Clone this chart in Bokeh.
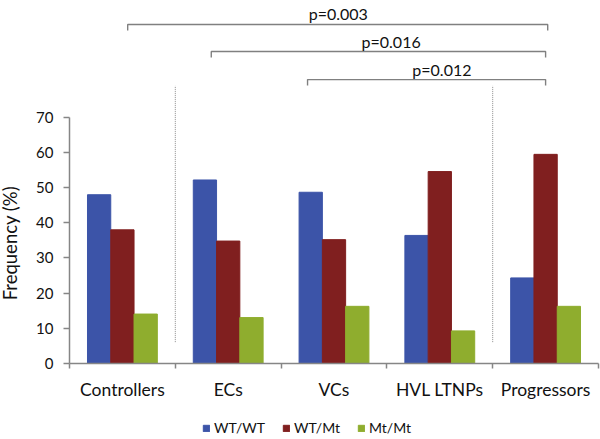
import math
from bokeh.plotting import figure
from bokeh.models import (ColumnDataSource, Range1d, FixedTicker, Legend, LegendItem, Label)
from bokeh.transform import dodge
from bokeh.core.properties import value
from bokeh.embed import file_html
from bokeh.resources import INLINE

# ---- data ----
categories = ["Controllers", "ECs", "VCs", "HVL LTNPs", "Progressors"]
wt_wt = [48.0, 52.2, 48.7, 36.4, 24.3]
wt_mt = [38.0, 34.8, 35.2, 54.6, 59.5]
mt_mt = [14.0, 13.0, 16.2, 9.2, 16.2]
series_names = ["WT/WT", "WT/Mt", "Mt/Mt"]
series_colors = ["#3C54A8", "#801F1F", "#8FAD2E"]
y_ticks = [0, 10, 20, 30, 40, 50, 60, 70]

# significance brackets (category-index space) and p-values
p_labels = ["p=0.003", "p=0.016", "p=0.012"]
bracket_left = [0.55, 1.34, 2.25]
bracket_right = [4.52, 4.50, 4.50]
bracket_y = [96.5, 88.8, 80.8]
label_x = [2.54, 3.04, 3.52]
label_y = [99.6, 91.6, 83.8]
separators = [1, 4]

FONT = "Lato"
AXIS_GRAY = "#868686"

n = len(categories)
centers = [i + 0.5 for i in range(n)]
src = ColumnDataSource(dict(x=centers, wt_wt=wt_wt, wt_mt=wt_mt, mt_mt=mt_mt))

# whole canvas is the plot frame; axes are pinned at 0
PX_X = 105.8   # px per category
PX_Y = 3.51    # px per percent
p = figure(width=600, height=439, output_backend="svg", toolbar_location=None,
           x_range=Range1d(-69 / PX_X, n + 2 / PX_X),
           y_range=Range1d(-(439 - 362.7) / PX_Y, 362.7 / PX_Y),
           min_border=0)
p.outline_line_color = None
p.xgrid.visible = False
p.ygrid.visible = False

bw = 0.22
offsets = [-bw, 0.0, bw]
keys = ["wt_wt", "wt_mt", "mt_mt"]
renderers = []
for k, off, col in zip(keys, offsets, series_colors):
    r = p.vbar(x=dodge("x", off, range=p.x_range), top=k, width=bw, bottom=0, source=src,
               fill_color=col, line_color=col, line_width=1)
    renderers.append(r)

# separators
p.segment(x0=separators, x1=separators, y0=[6] * len(separators), y1=[79] * len(separators),
          line_color="#8c8c8c", line_width=1, line_dash="1 1")

# brackets
drop = 1.7
xs = [[l, l, r, r] for l, r in zip(bracket_left, bracket_right)]
ys = [[y - drop, y, y, y - drop] for y in bracket_y]
p.multi_line(xs=xs, ys=ys, line_color="#808080", line_width=1.4)
p.text(x=label_x, y=label_y, text=p_labels, text_font=value(FONT), text_font_size="16px",
       text_align="center", text_baseline="alphabetic", text_color="#111111")

# y axis
ya = p.yaxis[0]
ya.fixed_location = 0
ya.ticker = FixedTicker(ticks=y_ticks)
ya.bounds = (0, 70)
ya.axis_line_color = AXIS_GRAY
ya.axis_line_width = 1.5
ya.major_tick_line_color = AXIS_GRAY
ya.major_tick_line_width = 1.5
ya.major_tick_out = 6
ya.major_tick_in = 0
ya.minor_tick_line_color = None
ya.major_label_standoff = 10
ya.major_label_text_font = FONT
ya.major_label_text_font_size = "15px"
ya.major_label_text_color = "#111111"

p.add_layout(Label(x=-0.565, y=34.2, text="Frequency (%)", angle=math.pi / 2,
                   text_font=FONT, text_font_size="18.5px",
                   text_align="center", text_baseline="middle", text_color="#111111"))

# x axis
xa = p.xaxis[0]
xa.fixed_location = 0
xa.bounds = (0, n)
xa.ticker = FixedTicker(ticks=centers, minor_ticks=list(range(n + 1)))
xa.major_label_overrides = {c: name for c, name in zip(centers, categories)}
xa.axis_line_color = AXIS_GRAY
xa.axis_line_width = 1.5
xa.major_tick_line_color = None
xa.major_tick_out = 5
xa.major_tick_in = 0
xa.minor_tick_line_color = AXIS_GRAY
xa.minor_tick_line_width = 1.5
xa.minor_tick_out = 5
xa.minor_tick_in = 0
xa.major_label_standoff = 11
xa.major_label_text_font = FONT
xa.major_label_text_font_size = "17.5px"
xa.major_label_text_color = "#111111"

legend = Legend(items=[LegendItem(label=nm, renderers=[r]) for nm, r in zip(series_names, renderers)],
                orientation="horizontal", location=(202, 3),
                border_line_color=None, background_fill_alpha=0,
                glyph_width=8, glyph_height=8, label_standoff=4, spacing=17,
                padding=0, margin=0, label_text_font=FONT, label_text_font_size="14px",
                label_text_color="#111111", label_height=14)
p.add_layout(legend, "center")

open("out.html", "w").write(file_html(p, INLINE))
